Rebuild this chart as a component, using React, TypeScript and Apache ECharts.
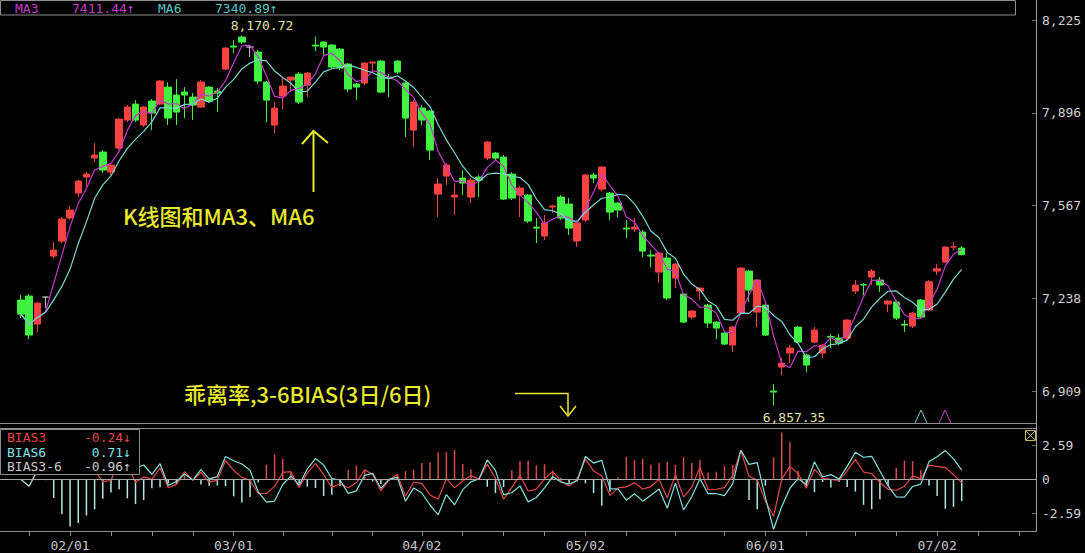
import React, { useEffect, useRef } from 'react';
import * as echarts from 'echarts';

// [open, close, low, high] for each trading day (red = up, green = down)
const ohlc: number[][] = [
  [7231.8, 7182.1, 7167.9, 7249.5], [7246.0, 7107.6, 7093.4, 7253.1], [7146.7, 7221.1, 7118.3, 7224.0], [7242.4, 7242.4, 7203.4, 7243.5],
  [7387.9, 7409.1, 7380.8, 7437.5], [7441.1, 7519.1, 7434.0, 7526.2], [7522.7, 7551.0, 7515.6, 7565.2], [7611.3, 7653.9, 7597.1, 7657.4],
  [7668.1, 7678.7, 7632.6, 7685.8], [7735.5, 7746.1, 7721.3, 7788.7], [7756.8, 7692.9, 7682.3, 7763.9], [7685.8, 7710.7, 7675.2, 7717.8],
  [7771.0, 7873.8, 7763.9, 7877.4], [7870.3, 7916.4, 7863.2, 7923.5], [7927.0, 7870.3, 7863.2, 7941.2], [7852.5, 7916.4, 7845.4, 7919.9],
  [7937.7, 7895.1, 7834.8, 7944.8], [7927.0, 8008.6, 7923.5, 8012.2], [7987.3, 7877.4, 7852.5, 8005.1], [7959.0, 7898.7, 7852.5, 8015.7],
  [7969.6, 7959.0, 7877.4, 7987.3], [7951.9, 7923.5, 7870.3, 7966.1], [7916.4, 8005.1, 7912.8, 8012.2], [7987.3, 7937.7, 7930.6, 7990.9],
  [7973.1, 7966.1, 7898.7, 7983.8], [8051.2, 8125.7, 8047.6, 8129.2], [8132.8, 8129.2, 8107.9, 8154.1], [8164.7, 8147.0, 8139.9, 8170.72],
  [8129.2, 8129.2, 8093.8, 8136.3], [8111.5, 8008.6, 7998.0, 8118.6], [8005.1, 7941.2, 7863.2, 8008.6], [7852.5, 7912.8, 7824.2, 7934.1],
  [7955.4, 7990.9, 7909.3, 8022.8], [8012.2, 8022.8, 7969.6, 8024.5], [8033.4, 7934.1, 7927.0, 8040.5], [7994.4, 8037.0, 7951.9, 8040.5],
  [8136.3, 8132.8, 8115.0, 8166.0], [8147.0, 8129.2, 8093.8, 8150.5], [8136.3, 8058.3, 8054.7, 8139.9], [8122.1, 8054.7, 8047.6, 8125.7],
  [8068.9, 7980.2, 7969.6, 8072.5], [7998.0, 7987.3, 7941.2, 8001.5], [8001.5, 8072.5, 7994.4, 8076.0], [8072.5, 8076.0, 8040.5, 8079.6],
  [8079.6, 7969.6, 7966.1, 8083.1], [8022.8, 8019.3, 7951.9, 8033.4], [8079.6, 8040.5, 8033.4, 8083.1], [8001.5, 7877.4, 7810.0, 8005.1],
  [7834.8, 7934.1, 7774.5, 7941.2], [7912.8, 7870.3, 7852.5, 7923.5], [7902.2, 7763.9, 7728.4, 7905.7], [7607.8, 7643.3, 7526.2, 7664.5],
  [7671.6, 7710.7, 7639.7, 7717.8], [7597.1, 7604.2, 7533.3, 7646.8], [7664.5, 7646.8, 7604.2, 7692.9], [7597.1, 7657.4, 7575.9, 7664.5],
  [7668.1, 7657.4, 7597.1, 7675.2], [7735.5, 7792.2, 7728.4, 7795.8], [7753.2, 7735.5, 7728.4, 7756.8], [7739.0, 7590.0, 7586.5, 7746.1],
  [7678.7, 7593.6, 7586.5, 7685.8], [7604.2, 7629.1, 7526.2, 7636.2], [7604.2, 7512.0, 7504.9, 7607.8], [7490.7, 7487.2, 7434.0, 7522.7],
  [7458.8, 7504.9, 7444.6, 7533.3], [7561.7, 7565.2, 7540.4, 7568.8], [7597.1, 7522.7, 7515.6, 7604.2], [7572.3, 7487.2, 7462.4, 7593.6],
  [7441.1, 7504.9, 7419.8, 7508.5], [7515.6, 7675.2, 7508.5, 7678.7], [7675.2, 7664.5, 7646.8, 7682.3], [7625.5, 7703.6, 7618.4, 7707.1],
  [7611.3, 7543.9, 7515.6, 7614.9], [7575.9, 7551.0, 7526.2, 7579.4], [7487.2, 7483.6, 7451.7, 7515.6], [7483.6, 7490.7, 7473.0, 7522.7],
  [7473.0, 7405.6, 7384.3, 7480.1], [7391.4, 7387.9, 7348.8, 7409.1], [7331.1, 7398.5, 7292.1, 7402.1], [7380.8, 7238.9, 7231.8, 7398.5],
  [7309.8, 7359.5, 7274.4, 7363.0], [7253.1, 7153.7, 7150.2, 7256.6], [7171.5, 7192.8, 7164.4, 7196.3], [7263.7, 7274.4, 7231.8, 7277.9],
  [7214.0, 7150.2, 7132.5, 7217.6], [7153.7, 7132.5, 7093.4, 7157.2], [7114.7, 7075.7, 7072.1, 7118.3], [7072.1, 7136.0, 7047.3, 7139.5],
  [7185.7, 7345.3, 7182.1, 7348.8], [7334.7, 7267.3, 7224.7, 7338.2], [7189.2, 7302.7, 7136.0, 7306.2], [7214.0, 7107.6, 7104.1, 7217.6],
  [6909.0, 6905.4, 6857.35, 6933.8], [6994.1, 7008.3, 6965.7, 7026.0], [7043.8, 7061.5, 7008.3, 7072.1], [7136.0, 7082.8, 7079.2, 7139.5],
  [7036.7, 7001.2, 6976.4, 7040.2], [7082.8, 7125.4, 7079.2, 7136.0], [7043.8, 7072.1, 7026.0, 7075.7], [7102.0, 7100.5, 7061.5, 7111.2],
  [7097.0, 7079.2, 7072.1, 7111.2], [7097.0, 7160.8, 7089.9, 7164.4], [7263.7, 7285.0, 7253.1, 7302.7], [7286.5, 7285.0, 7249.5, 7292.1],
  [7313.4, 7334.7, 7285.0, 7341.7], [7302.7, 7285.0, 7260.2, 7313.4], [7217.6, 7228.2, 7189.2, 7231.8], [7224.7, 7167.9, 7160.8, 7231.8],
  [7146.0, 7143.1, 7118.3, 7160.8], [7139.5, 7185.7, 7132.5, 7189.2], [7231.8, 7171.5, 7167.9, 7235.3], [7196.3, 7296.5, 7192.8, 7302.7],
  [7334.7, 7343.0, 7320.5, 7359.5], [7366.6, 7419.8, 7363.0, 7423.3], [7419.8, 7421.0, 7409.1, 7437.5], [7416.2, 7393.6, 7390.0, 7423.3],
];
const grayDoji = [3, 28];

const tickIndex = [1, 6, 11, 16, 21, 26, 32, 38, 43, 49, 54, 59, 64, 69, 74, 80, 86, 91, 96, 102, 107, 112, 117, 122];
const labelIndex = [6, 26, 49, 69, 91, 112];
const dateLabels = ['02/01', '03/01', '04/02', '05/02', '06/01', '07/02'];
const priceTicks = [6909, 7238, 7567, 7896, 8225];
const biasTicks = [-2.59, 0, 2.59];

const legendMA = ['MA3', '7411.44\u2191', 'MA6', '7340.89\u2191'];
const legendBias = ['BIAS3', '-0.24\u2193', 'BIAS6', '0.71\u2193', 'BIAS3-6', '-0.96\u2191'];
const highLabel = '8,170.72';
const lowLabel = '6,857.35';
const titleTop = 'K线图和MA3、MA6';
const titleBias = '乖离率,3-6BIAS(3日/6日)';

const closes = ohlc.map((d) => d[1]);
function movingAvg(n: number): number[] {
  return closes.map((_, i) => {
    const s = Math.max(0, i - n + 1);
    let sum = 0;
    for (let j = s; j <= i; j++) sum += closes[j];
    return sum / (i - s + 1);
  });
}
const ma3 = movingAvg(3);
const ma6 = movingAvg(6);
const bias3 = closes.map((c, i) => ((c - ma3[i]) / ma3[i]) * 100);
const bias6 = closes.map((c, i) => ((c - ma6[i]) / ma6[i]) * 100);
const bias36 = bias3.map((b, i) => b - bias6[i]);

const UP = '#f84242';
const DOWN = '#42f242';
const MA3C = '#c23cc8';
const MA6C = '#7dd4d4';
const B3C = '#e04848';
const B6C = '#86e0e0';
const FRAME = '#8e8e8e';
const YELLOW = '#e8e82c';
const MONO = '"DejaVu Sans Mono", monospace';
const CJK = '"Noto Sans CJK SC", "Noto Sans", sans-serif';

const STEP = 8.18;
const X0 = 21;
const RIGHT_EDGE = 1036;
const X_MIN = -X0 / STEP;
const X_MAX = (RIGHT_EDGE - X0) / STEP;

function txt(text: string, x: number, y: number, fill: string, extra: any = {}) {
  const align = extra.align || 'left';
  return {
    type: 'text', x, y, z: 100, silent: true,
    style: {
      text, fill, fontFamily: extra.fontFamily || MONO, fontSize: extra.fontSize || 13,
      fontWeight: extra.fontWeight || 'normal',
      align, textAlign: align, verticalAlign: 'middle', textVerticalAlign: 'middle',
    },
  };
}
function ln(x1: number, y1: number, x2: number, y2: number, stroke: string, w = 1) {
  return { type: 'line', z: 100, silent: true, shape: { x1, y1, x2, y2 }, style: { stroke, lineWidth: w } };
}
function pl(points: number[][], stroke: string, w = 1) {
  return { type: 'polyline', z: 100, silent: true, shape: { points }, style: { stroke, lineWidth: w, fill: null } };
}

export default function App() {
  const ref = useRef<HTMLDivElement>(null);
  useEffect(() => {
    if (!ref.current) return;
    const chart = echarts.init(ref.current, null, { renderer: 'svg' });
    const candleData = ohlc.map((d, i) => {
      const v = [i, d[0], d[1], d[2], d[3]];
      if (grayDoji.indexOf(i) >= 0) {
        return { value: v, itemStyle: { color: '#b4b4b4', color0: '#b4b4b4', borderColor: '#b4b4b4', borderColor0: '#b4b4b4' } };
      }
      return v;
    });
    const option: any = {
      backgroundColor: '#000',
      animation: false,
      grid: [
        { left: 0, right: 1085 - RIGHT_EDGE, top: 15, height: 408.5 },
        { left: 0, right: 1085 - RIGHT_EDGE, top: 428, height: 103 },
      ],
      xAxis: [
        { type: 'value', gridIndex: 0, min: X_MIN, max: X_MAX, show: false, splitLine: { show: false } },
        {
          type: 'value', gridIndex: 1, min: X_MIN, max: X_MAX,
          axisLine: { show: true, onZero: false, lineStyle: { color: FRAME, width: 1 } },
          axisTick: { show: true, customValues: tickIndex, length: 5, lineStyle: { color: '#8a8a8a' } },
          axisLabel: {
            customValues: labelIndex,
            formatter: (v: number) => {
              const k = labelIndex.indexOf(Math.round(v));
              return k >= 0 ? dateLabels[k] : '';
            },
            color: '#c8c8c8', fontFamily: MONO, fontSize: 13, margin: 8,
          },
          splitLine: { show: false },
        },
      ],
      yAxis: [
        {
          type: 'value', gridIndex: 0, position: 'right', min: 6794, max: 8243,
          axisLine: { show: false, onZero: false }, splitLine: { show: false },
          axisTick: { show: true, inside: true, length: 4, customValues: priceTicks, lineStyle: { color: '#707070' } },
          axisLabel: {
            customValues: priceTicks,
            formatter: (v: number) => Math.round(v).toLocaleString('en-US'),
            color: '#d0d0d0', fontFamily: MONO, fontSize: 13, margin: 6,
          },
        },
        {
          type: 'value', gridIndex: 1, position: 'right', min: -3.92, max: 3.92,
          axisLine: { show: false, onZero: false }, splitLine: { show: false },
          axisTick: { show: true, inside: true, length: 4, customValues: biasTicks, lineStyle: { color: '#707070' } },
          axisLabel: {
            customValues: biasTicks,
            formatter: (v: number) => (Math.abs(v) < 1e-9 ? '0' : v.toFixed(2)),
            color: '#d0d0d0', fontFamily: MONO, fontSize: 13, margin: 6,
          },
        },
        {
          // separate scale used by the BIAS3-6 histogram
          type: 'value', gridIndex: 1, position: 'left', min: -2.28, max: 2.28, show: false,
          axisLine: { show: false, onZero: false }, splitLine: { show: false },
        },
      ],
      series: [
        {
          type: 'candlestick', xAxisIndex: 0, yAxisIndex: 0, barWidth: 7,
          encode: { x: 0, y: [1, 2, 3, 4] },
          data: candleData,
          itemStyle: { color: UP, color0: DOWN, borderColor: UP, borderColor0: DOWN, borderWidth: 1 },
        },
        {
          type: 'line', xAxisIndex: 0, yAxisIndex: 0, data: ma3.map((v, i) => [i, v]),
          showSymbol: false, lineStyle: { color: MA3C, width: 1.2 }, itemStyle: { color: MA3C }, z: 3,
        },
        {
          type: 'line', xAxisIndex: 0, yAxisIndex: 0, data: ma6.map((v, i) => [i, v]),
          showSymbol: false, lineStyle: { color: MA6C, width: 1.2 }, itemStyle: { color: MA6C }, z: 3,
        },
        {
          type: 'bar', xAxisIndex: 1, yAxisIndex: 2, barWidth: 1.5,
          data: bias36.map((v, i) => [i, v]),
          itemStyle: { color: (p: any) => (p.value[1] >= 0 ? '#d84a4a' : '#b0e6e6') },
        },
        {
          type: 'line', xAxisIndex: 1, yAxisIndex: 1, data: bias3.map((v, i) => [i, v]),
          showSymbol: false, lineStyle: { color: B3C, width: 1.2 }, itemStyle: { color: B3C }, z: 3,
          markLine: {
            silent: true, symbol: ['none', 'none'], label: { show: false },
            lineStyle: { color: '#a8a8a8', type: 'solid', width: 1 },
            data: [{ yAxis: 0 }],
          },
        },
        {
          type: 'line', xAxisIndex: 1, yAxisIndex: 1, data: bias6.map((v, i) => [i, v]),
          showSymbol: false, lineStyle: { color: B6C, width: 1.2 }, itemStyle: { color: B6C }, z: 3,
        },
      ],
      graphic: [
        { type: 'rect', z: 99, silent: true, shape: { x: 0.5, y: 0.5, width: 1015, height: 14.5 }, style: { fill: '#000', stroke: FRAME, lineWidth: 1 } },
        txt(legendMA[0], 15, 8, MA3C),
        txt(legendMA[1], 72, 8, MA3C),
        txt(legendMA[2], 158, 8, '#58c4c4'),
        txt(legendMA[3], 215, 8, '#58c4c4'),
        ln(RIGHT_EDGE + 0.5, 0, RIGHT_EDGE + 0.5, 531.5, '#a0a0a0'),
        ln(0, 423.5, RIGHT_EDGE, 423.5, FRAME),
        ln(0, 428.5, RIGHT_EDGE, 428.5, FRAME),
        { type: 'rect', z: 99, silent: true, shape: { x: 0.5, y: 429.5, width: 139, height: 45 }, style: { fill: '#000', stroke: FRAME, lineWidth: 1 } },
        txt(legendBias[0], 7, 437, B3C),
        txt(legendBias[1], 131, 437, B3C, { align: 'right' }),
        txt(legendBias[2], 7, 452, B6C),
        txt(legendBias[3], 131, 452, B6C, { align: 'right' }),
        txt(legendBias[4], 7, 466, '#c8c8c8'),
        txt(legendBias[5], 131, 466, '#c8c8c8', { align: 'right' }),
        { type: 'rect', z: 100, silent: true, shape: { x: 1025.5, y: 430.5, width: 10, height: 10 }, style: { fill: null, stroke: '#c8b468', lineWidth: 1 } },
        ln(1026, 431, 1035, 440, '#c8b468'),
        ln(1035, 431, 1026, 440, '#c8b468'),
        txt(highLabel, 262, 25, '#e2e2a2', { align: 'center' }),
        txt(lowLabel, 794, 417, '#e2e2a2', { align: 'center' }),
        ln(313.5, 192, 313.5, 132, YELLOW, 2),
        pl([[302, 144], [313.5, 131], [328, 143]], YELLOW, 2),
        txt(titleTop, 123, 215, YELLOW, { fontFamily: CJK, fontSize: 22, fontWeight: 500 }),
        txt(titleBias, 184, 393, YELLOW, { fontFamily: CJK, fontSize: 22, fontWeight: 500 }),
        pl([[515, 393.5], [568, 393.5], [568, 416]], YELLOW, 1.5),
        pl([[560, 406], [568, 416], [576, 406]], YELLOW, 1.5),
        pl([[915, 423], [921, 410], [927, 423]], '#70d0d0', 1),
        pl([[939, 423], [945, 410], [951, 423]], MA3C, 1),
      ],
    };
    chart.setOption(option);
    return () => chart.dispose();
  }, []);
  return (
    <div
      ref={ref}
      style={{ position: 'absolute', left: 0, top: 0, width: 1085, height: 553, background: '#000' }}
    />
  );
}
